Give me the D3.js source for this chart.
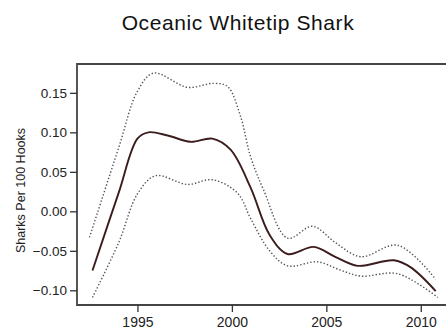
<!DOCTYPE html>
<html lang="en">
  <head>
    <meta charset="UTF-8" />
    <title>Oceanic Whitetip Shark</title>
    <style>
      * {
        margin: 0;
        padding: 0;
      }
      body {
        background-color: #fff;
        overflow: hidden;
      }
    </style>
  </head>
  <body>
    <script src="https://cdn.jsdelivr.net/npm/d3@7/dist/d3.min.js"></script>
    <script>
      // 均值曲线
      const meanYears = [1992.62, 1994.0, 1995.0, 1995.58, 1996.6, 1997.81, 1998.97, 1999.93, 2000.99, 2002.0, 2002.95, 2004.33, 2005.5, 2006.66, 2008.57, 2009.47, 2010.79];
      const meanValues = [-0.075, 0.023, 0.092, 0.1, 0.096, 0.088, 0.092, 0.078, 0.03, -0.03, -0.054, -0.045, -0.058, -0.069, -0.062, -0.071, -0.101];
      // 上置信线
      const upperYears = [1992.46, 1994.0, 1995.0, 1995.85, 1997.65, 1999.03, 1999.77, 2000.46, 2000.99, 2001.68, 2002.95, 2004.27, 2005.5, 2006.82, 2008.78, 2010.79];
      const upperValues = [-0.033, 0.08, 0.152, 0.175, 0.157, 0.162, 0.158, 0.12, 0.069, 0.027, -0.034, -0.019, -0.04, -0.0575, -0.043, -0.086];
      // 下置信线
      const lowerYears = [1992.62, 1994.0, 1995.0, 1995.95, 1997.65, 1998.97, 2000.3, 2000.99, 2002.0, 2002.95, 2004.54, 2005.7, 2006.82, 2008.78, 2010.9];
      const lowerValues = [-0.109, -0.04, 0.022, 0.045, 0.034, 0.04, 0.023, -0.009, -0.05, -0.069, -0.064, -0.074, -0.082, -0.079, -0.109];

      const xTicks = [1995, 2000, 2005, 2010];
      const yTicks = [-0.1, -0.05, 0, 0.05, 0.1, 0.15];

      const width = 446;
      const height = 336;
      const plot = { left: 77, top: 64, right: 451, bottom: 305 };

      const svg = d3.select("body").append("svg").attr("width", width).attr("height", height);

      const x = d3.scaleLinear().domain([1991.8, 2011.6]).range([plot.left, plot.right]);
      const y = d3.scaleLinear().domain([-0.1186, 0.1865]).range([plot.bottom, plot.top]);

      // 标题
      svg
        .append("text")
        .text("Oceanic Whitetip Shark")
        .attr("x", 238)
        .attr("y", 30)
        .attr("text-anchor", "middle")
        .attr("font-family", "Liberation Sans, Arial, sans-serif")
        .attr("font-size", 21)
        .attr("letter-spacing", 0.6)
        .attr("fill", "#111");

      // 边框
      svg
        .append("path")
        .attr("d", `M${plot.right},${plot.top}H${plot.left}V${plot.bottom}H${plot.right}`)
        .attr("fill", "none")
        .attr("stroke", "#444")
        .attr("stroke-width", 1.8);

      // 坐标轴
      const yAxis = svg
        .append("g")
        .attr("transform", `translate(${plot.left},0)`)
        .call(d3.axisLeft(y).tickValues(yTicks).tickSize(7).tickPadding(3).tickFormat(d3.format(".2f")));
      const xAxis = svg
        .append("g")
        .attr("transform", `translate(0,${plot.bottom})`)
        .call(d3.axisBottom(x).tickValues(xTicks).tickSize(7).tickPadding(5).tickFormat(d3.format("d")));
      [yAxis, xAxis].forEach((g) => {
        g.select(".domain").remove();
        g.selectAll("line").attr("stroke", "#333").attr("stroke-width", 1.3);
        g.selectAll("text")
          .attr("font-family", "Liberation Sans, Arial, sans-serif")
          .attr("font-size", 13.5)
          .attr("fill", "#222");
      });
      xAxis.selectAll("text").attr("font-size", 14);

      // 纵轴标题
      svg
        .append("text")
        .text("Sharks Per 100 Hooks")
        .attr("transform", `translate(25,${(plot.top + plot.bottom) / 2 + 6}) rotate(-90)`)
        .attr("text-anchor", "middle")
        .attr("font-family", "Liberation Sans, Arial, sans-serif")
        .attr("font-size", 12.5)
        .attr("fill", "#222");

      const line = d3
        .line()
        .x((d) => x(d[0]))
        .y((d) => y(d[1]))
        .curve(d3.curveCatmullRom.alpha(0.5));

      const zip = (a, b) => a.map((v, i) => [v, b[i]]);

      // 置信线
      [zip(upperYears, upperValues), zip(lowerYears, lowerValues)].forEach((pts) => {
        svg
          .append("path")
          .attr("d", line(pts))
          .attr("fill", "none")
          .attr("stroke", "#555")
          .attr("stroke-width", 1.4)
          .attr("stroke-dasharray", "1.4,2");
      });

      // 均值线
      svg
        .append("path")
        .attr("d", line(zip(meanYears, meanValues)))
        .attr("fill", "none")
        .attr("stroke", "#3b1c1c")
        .attr("stroke-width", 1.9);
    </script>
  </body>
</html>
